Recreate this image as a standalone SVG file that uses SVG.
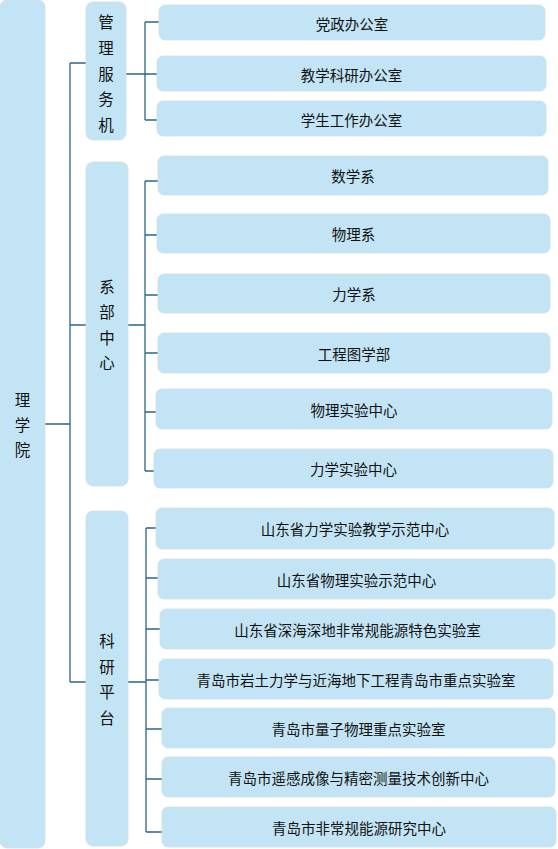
<svg xmlns="http://www.w3.org/2000/svg" width="558" height="849" viewBox="0 0 558 849">
<style>
.box{fill:#c2e4f4;stroke:#cddfe8;stroke-width:0.8}
.t{font-family:"Noto Sans CJK SC","Liberation Sans",sans-serif;font-size:14.5px;fill:#111;text-anchor:middle;dominant-baseline:central}
.v{font-family:"Noto Sans CJK SC","Liberation Sans",sans-serif;font-size:15.5px;fill:#111;text-anchor:middle;dominant-baseline:central}
.c{fill:none;stroke:#2b6688;stroke-width:1.3}
</style>
<rect width="558" height="849" fill="#fff"/>
<g id="connectors">
<path class="c" d="M45 424H70M70 63V682M70 63H86M70 325H86M70 682H86"/>
<path class="c" d="M126 74H157M145 22V120M145 22H159M145 120H157"/>
<path class="c" d="M128 325H145M145 181V471M145 181H158M145 235H157M145 295H158M145 353H158M145 412H156M145 471H154"/>
<path class="c" d="M128 682H146M146 528V832M146 528H156M146 578H158M146 629H160M146 680H159M146 729H162M146 779H162M146 832H162"/>
</g>
<g id="root"><rect class="box" x="0" y="0" width="45" height="848" rx="7"/>
<text class="v" x="22.5" y="399">理</text><text class="v" x="22.5" y="424">学</text><text class="v" x="22.5" y="449">院</text></g>
<g id="guanli"><rect class="box" x="86" y="2" width="40" height="138" rx="7"/>
<text class="v" x="106" y="21">管</text><text class="v" x="106" y="47">理</text><text class="v" x="106" y="72.5">服</text><text class="v" x="106" y="98">务</text><text class="v" x="106" y="123.5">机</text></g>
<g id="xibu"><rect class="box" x="86" y="162" width="42" height="324" rx="7"/>
<text class="v" x="107" y="285.5">系</text><text class="v" x="107" y="311">部</text><text class="v" x="107" y="336.5">中</text><text class="v" x="107" y="362">心</text></g>
<g id="keyan"><rect class="box" x="86" y="511" width="42" height="335" rx="7"/>
<text class="v" x="107" y="640">科</text><text class="v" x="107" y="665.5">研</text><text class="v" x="107" y="691">平</text><text class="v" x="107" y="716.5">台</text></g>
<g id="n1"><rect class="box" x="159" y="5" width="386" height="35" rx="6"/><text class="t" x="352" y="23">党政办公室</text></g>
<g id="n2"><rect class="box" x="157" y="56" width="389" height="35" rx="6"/><text class="t" x="351.5" y="74">教学科研办公室</text></g>
<g id="n3"><rect class="box" x="157" y="101" width="389" height="35" rx="6"/><text class="t" x="351.5" y="119">学生工作办公室</text></g>
<g id="n4"><rect class="box" x="158" y="156" width="390" height="39" rx="6"/><text class="t" x="353" y="175.5">数学系</text></g>
<g id="n5"><rect class="box" x="157" y="214" width="393" height="39" rx="6"/><text class="t" x="353.5" y="233.5">物理系</text></g>
<g id="n6"><rect class="box" x="158" y="274" width="392" height="39" rx="6"/><text class="t" x="354" y="293.5">力学系</text></g>
<g id="n7"><rect class="box" x="158" y="333" width="392" height="40" rx="6"/><text class="t" x="354" y="353">工程图学部</text></g>
<g id="n8"><rect class="box" x="156" y="389" width="396" height="40" rx="6"/><text class="t" x="354" y="409">物理实验中心</text></g>
<g id="n9"><rect class="box" x="154" y="449" width="399" height="39" rx="6"/><text class="t" x="353.5" y="468.5">力学实验中心</text></g>
<g id="n10"><rect class="box" x="156" y="508" width="398" height="41" rx="6"/><text class="t" x="355" y="528.5">山东省力学实验教学示范中心</text></g>
<g id="n11"><rect class="box" x="158" y="559" width="397" height="40" rx="6"/><text class="t" x="356.5" y="579">山东省物理实验示范中心</text></g>
<g id="n12"><rect class="box" x="160" y="609" width="395" height="40" rx="6"/><text class="t" x="357.5" y="629">山东省深海深地非常规能源特色实验室</text></g>
<g id="n13"><rect class="box" x="159" y="659" width="394" height="40" rx="6"/><text class="t" x="356" y="679">青岛市岩土力学与近海地下工程青岛市重点实验室</text></g>
<g id="n14"><rect class="box" x="162" y="708" width="393" height="40" rx="6"/><text class="t" x="358.5" y="728">青岛市量子物理重点实验室</text></g>
<g id="n15"><rect class="box" x="162" y="757" width="393" height="40" rx="6"/><text class="t" x="358.5" y="777">青岛市遥感成像与精密测量技术创新中心</text></g>
<g id="n16"><rect class="box" x="162" y="807" width="394" height="40" rx="6"/><text class="t" x="359" y="827">青岛市非常规能源研究中心</text></g>
</svg>
